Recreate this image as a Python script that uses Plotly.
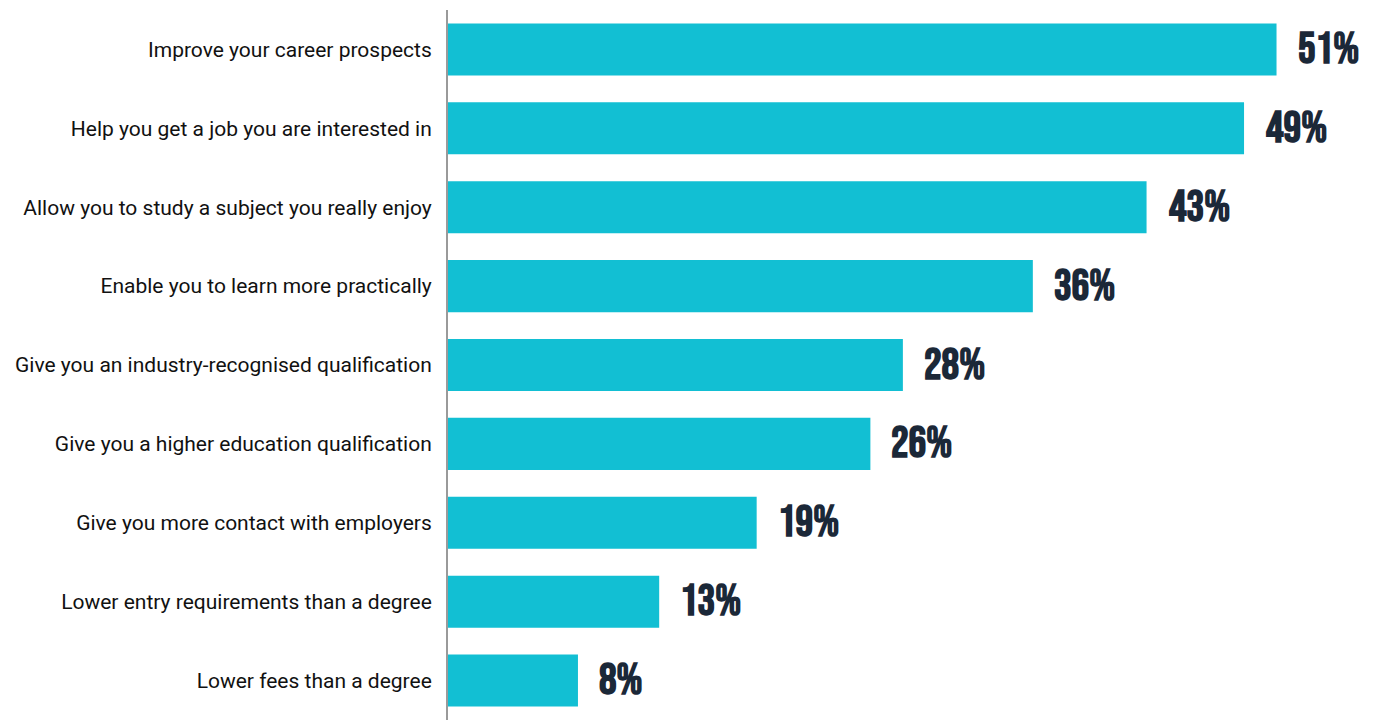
import plotly.graph_objects as go

# Survey responses, top to bottom
reasons = [
    "Improve your career prospects",
    "Help you get a job you are interested in",
    "Allow you to study a subject you really enjoy",
    "Enable you to learn more practically",
    "Give you an industry-recognised qualification",
    "Give you a higher education qualification",
    "Give you more contact with employers",
    "Lower entry requirements than a degree",
    "Lower fees than a degree",
]
shares = [51, 49, 43, 36, 28, 26, 19, 13, 8]
share_labels = [f"{v}%" for v in shares]

BAR_COLOR = "#12BFD3"
LABEL_COLOR = "#1B2838"

fig = go.Figure(
    go.Bar(
        x=shares,
        y=reasons,
        orientation="h",
        marker=dict(color=BAR_COLOR, line=dict(width=0)),
        width=0.66,
        hoverinfo="skip",
    )
)

# Percentage labels just past the end of each bar
for name, val, lab in zip(reasons, shares, share_labels):
    fig.add_annotation(
        x=val,
        y=name,
        text=f"<b>{lab}</b>",
        showarrow=False,
        xanchor="left",
        yanchor="middle",
        xshift=19,
        font=dict(
            family="Bebas Neue, Liberation Sans Narrow, DejaVu Sans Condensed, Roboto Condensed, sans-serif",
            size=44,
            color=LABEL_COLOR,
        ),
    )

fig.update_layout(
    width=1374,
    height=720,
    margin=dict(l=448, r=0, t=10, b=0),
    paper_bgcolor="white",
    plot_bgcolor="white",
    showlegend=False,
    xaxis=dict(
        range=[0, 57],
        visible=False,
        fixedrange=True,
    ),
    yaxis=dict(
        autorange="reversed",
        range=[-0.5, 8.5],
        showline=True,
        linecolor="#9A9A9A",
        linewidth=2,
        showgrid=False,
        zeroline=False,
        ticks="",
        ticklabelstandoff=10,
        tickfont=dict(family="Roboto, sans-serif", size=21, color="#111111"),
        fixedrange=True,
    ),
)

fig.write_html("out.html")
